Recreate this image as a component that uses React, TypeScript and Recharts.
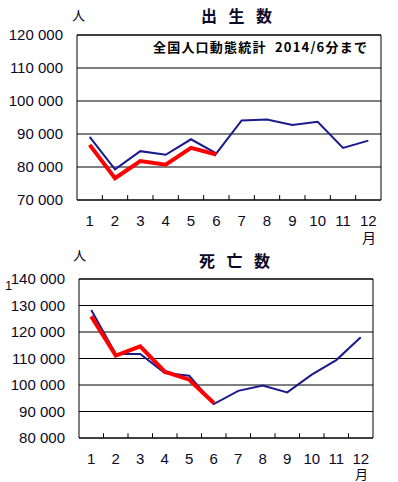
import React from "react"
import { LineChart, Line, XAxis, YAxis, CartesianGrid, ReferenceArea, ReferenceLine } from "recharts"

const months = [1, 2, 3, 4, 5, 6, 7, 8, 9, 10, 11, 12]
const boundaries = [1.5, 2.5, 3.5, 4.5, 5.5, 6.5, 7.5, 8.5, 9.5, 10.5, 11.5]

// 出生数: 前年 (blue) and 2014 (red, through June)
const birthPrev = [89100, 79300, 84800, 83700, 88400, 84100, 94100, 94400, 92700, 93700, 85800, 88000]
const birthCur = [86700, 76600, 81800, 80700, 85800, 83800]
const birthTicks = [70000, 80000, 90000, 100000, 110000, 120000]

// 死亡数
const deathPrev = [128300, 111700, 111700, 104500, 103500, 92800, 97800, 99800, 97200, 103900, 109400, 118000]
const deathCur = [125900, 111100, 114600, 105000, 102000, 93200]
const deathTicks = [80000, 90000, 100000, 110000, 120000, 130000, 140000]

const TEXT = "#0a0a28"
const NAVY = "#1a1a8c"
const RED = "#ff0000"

const fmt = (v: number) => {
  const s = String(v)
  return s.slice(0, s.length - 3) + " " + s.slice(-3)
}

const rows = (prev: number[], cur: number[]) =>
  months.map((m, i) => ({ m, prev: prev[i], cur: i < cur.length ? cur[i] : undefined }))

interface PanelProps {
  prev: number[]
  cur: number[]
  ticks: number[]
  height: number
  top: number
  right: number
  yWidth: number
  bottom: number
}

function Panel({ prev, cur, ticks, height, top, right, yWidth, bottom }: PanelProps) {
  const lo = ticks[0]
  const hi = ticks[ticks.length - 1]
  const markLen = (hi - lo) * 0.03 // short inward tick marks
  const tickStyle = { fill: TEXT, fontSize: 15, fontFamily: "Liberation Sans, Arial" }
  return (
    <LineChart width={398} height={height} data={rows(prev, cur)} margin={{ top, right, left: 0, bottom }}>
      <CartesianGrid horizontal vertical={false} stroke="#000" strokeWidth={1} />
      <XAxis
        dataKey="m"
        type="number"
        domain={[0.5, 12.5]}
        ticks={months}
        interval={0}
        axisLine={false}
        tickLine={false}
        tickSize={0}
        tickMargin={15}
        height={30}
        tick={tickStyle}
      />
      <YAxis
        type="number"
        domain={[lo, hi]}
        ticks={ticks}
        interval={0}
        width={yWidth}
        axisLine={false}
        tickLine={false}
        tickSize={0}
        tickMargin={14}
        tickFormatter={fmt}
        tick={tickStyle}
      />
      {boundaries.map((b) => (
        <ReferenceLine
          key={b}
          segment={[
            { x: b, y: lo },
            { x: b, y: lo + markLen },
          ]}
          stroke="#000"
          strokeWidth={1}
        />
      ))}
      <ReferenceArea x1={0.5} x2={12.5} y1={lo} y2={hi} fill="none" stroke="#000" strokeWidth={1} />
      <Line dataKey="prev" stroke={NAVY} strokeWidth={2} dot={false} isAnimationActive={false} />
      <Line dataKey="cur" stroke={RED} strokeWidth={4} dot={false} isAnimationActive={false} connectNulls={false} />
    </LineChart>
  )
}

const abs = (left: number, top: number, size: number, extra: React.CSSProperties = {}): React.CSSProperties => ({
  position: "absolute",
  left,
  top,
  fontSize: size,
  lineHeight: 1,
  color: TEXT,
  whiteSpace: "pre",
  ...extra,
})

const cjk = "'Noto Sans CJK JP', sans-serif"

export default function App() {
  return (
    <div style={{ position: "absolute", left: 0, top: 0, width: 398, height: 482, background: "#fff", fontFamily: "Liberation Sans, Arial" }}>
      <div style={{ position: "relative", width: 398, height: 240 }}>
        <Panel prev={birthPrev} cur={birthCur} ticks={birthTicks} height={240} top={35} right={17} yWidth={77} bottom={10} />
        <div style={abs(72, 8, 13, { fontFamily: cjk })}>人</div>
        <div style={abs(201, 7, 16, { fontFamily: cjk, fontWeight: "bold", letterSpacing: 11.5 })}>出生数</div>
        <div style={abs(153, 40, 13, { fontFamily: cjk, fontWeight: "bold", letterSpacing: 1.2, color: "#000" })}>
          {"全国人口動態統計  2014/6分まで"}
        </div>
        <div style={abs(362, 230, 14, { fontFamily: cjk })}>月</div>
      </div>
      <div style={{ position: "relative", width: 398, height: 242 }}>
        <Panel prev={deathPrev} cur={deathCur} ticks={deathTicks} height={242} top={39} right={25} yWidth={79} bottom={14} />
        <div style={abs(73, 8, 13, { fontFamily: cjk })}>人</div>
        <div style={abs(199, 12, 16, { fontFamily: cjk, fontWeight: "bold", letterSpacing: 11.5 })}>死亡数</div>
        <div style={abs(5, 39, 13)}>1</div>
        <div style={abs(355, 227, 13, { fontFamily: cjk })}>月</div>
      </div>
    </div>
  )
}
